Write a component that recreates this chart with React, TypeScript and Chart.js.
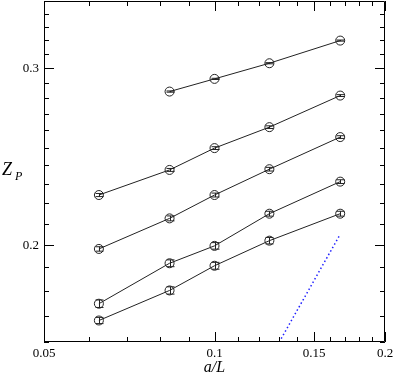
import React, { useEffect, useRef } from "react";
import { Chart, registerables } from "chart.js";

Chart.register(...registerables);

// a/L values (1/16, 1/12, 1/10, 1/8, 1/6)
const aOverL = [0.0625, 0.0833, 0.1, 0.125, 0.1667];

// Z_P series (top to bottom); null = no point
const series1 = [null, 0.2843, 0.2927, 0.3034, 0.3196];
const series2 = [0.2242, 0.2375, 0.2497, 0.262, 0.2817];
const series3 = [0.1981, 0.2125, 0.2242, 0.2379, 0.2561];
const series4 = [0.1747, 0.1917, 0.1995, 0.2148, 0.2312];
const series5 = [0.1681, 0.1801, 0.1906, 0.2019, 0.2148];

// error estimates
const err1 = [0, 0.0004, 0.0004, 0.0004, 0.0004];
const err2 = [0.0008, 0.0008, 0.0008, 0.0008, 0.0006];
const err3 = [0.001, 0.0012, 0.001, 0.001, 0.0008];
const err4 = [0.0015, 0.0015, 0.0015, 0.0012, 0.001];
const err5 = [0.0012, 0.0015, 0.0015, 0.0015, 0.0012];

// blue dotted reference line
const refX = [0.125, 0.1667];
const refY = [0.1537, 0.2049];

// axes
const xMin = 0.05;
const xMax = 0.2;
const yMin = 0.16;
const yMax = 0.35;
const xMajorTicks = [0.05, 0.1, 0.15, 0.2];
const xMajorLabels = ["0.05", "0.1", "0.15", "0.2"];
const xMinorTicks = [0.06, 0.07, 0.08, 0.09, 0.11, 0.12, 0.13, 0.14, 0.16, 0.17, 0.18, 0.19];
const yMajorTicks = [0.2, 0.3];
const yMajorLabels = ["0.2", "0.3"];
const yMinorTicks = [0.16, 0.17, 0.18, 0.19, 0.21, 0.22, 0.23, 0.24, 0.25, 0.26, 0.27, 0.28, 0.29, 0.31, 0.32, 0.33, 0.34];

const xTitle = "a/L";
const yTitleMain = "Z";
const yTitleSub = "P";

const FONT = "'Liberation Serif', 'DejaVu Serif', serif";
const INK = "#222";

const allSeries = [series1, series2, series3, series4, series5];
const allErrors = [err1, err2, err3, err4, err5];

const framePlugin = {
  id: "frameTicks",
  afterDraw(chart: any) {
    const { ctx, chartArea: a, scales } = chart;
    const xs = scales.x;
    const ys = scales.y;
    ctx.save();
    ctx.strokeStyle = "#000";
    ctx.lineWidth = 1;
    ctx.beginPath();
    ctx.rect(a.left + 0.5, a.top + 0.5, a.right - a.left - 1, a.bottom - a.top - 1);
    ctx.stroke();
    const major = 10;
    const minor = 5;
    ctx.beginPath();
    const xt = (v: number, len: number) => {
      const px = Math.round(xs.getPixelForValue(v)) + 0.5;
      ctx.moveTo(px, a.bottom);
      ctx.lineTo(px, a.bottom - len);
      ctx.moveTo(px, a.top);
      ctx.lineTo(px, a.top + len);
    };
    const yt = (v: number, len: number) => {
      const py = Math.round(ys.getPixelForValue(v)) + 0.5;
      ctx.moveTo(a.left, py);
      ctx.lineTo(a.left + len, py);
      ctx.moveTo(a.right, py);
      ctx.lineTo(a.right - len, py);
    };
    xMajorTicks.forEach((v) => xt(v, major));
    xMinorTicks.forEach((v) => xt(v, minor));
    yMajorTicks.forEach((v) => yt(v, major));
    yMinorTicks.forEach((v) => yt(v, minor));
    ctx.stroke();

    // y tick labels
    ctx.fillStyle = "#000";
    ctx.font = `13px ${FONT}`;
    ctx.textAlign = "right";
    ctx.textBaseline = "middle";
    yMajorTicks.forEach((v, i) => {
      ctx.fillText(yMajorLabels[i], a.left - 5, ys.getPixelForValue(v) + 0.5);
    });

    // y title Z_P
    ctx.textBaseline = "alphabetic";
    ctx.textAlign = "left";
    ctx.font = `italic 18px ${FONT}`;
    ctx.fillText(yTitleMain, 2, 175);
    ctx.font = `italic 12px ${FONT}`;
    ctx.fillText(yTitleSub, 15, 180);
    ctx.restore();
  },
  afterDatasetsDraw(chart: any) {
    const { ctx, scales } = chart;
    const xs = scales.x;
    const ys = scales.y;
    ctx.save();
    ctx.strokeStyle = INK;
    ctx.lineWidth = 1;
    ctx.beginPath();
    allSeries.forEach((s, si) => {
      s.forEach((v, i) => {
        if (v == null) return;
        const e = allErrors[si][i];
        const px = Math.round(xs.getPixelForValue(aOverL[i])) + 0.5;
        const yTop = ys.getPixelForValue(v + e);
        const yBot = ys.getPixelForValue(v - e);
        ctx.moveTo(px, yTop);
        ctx.lineTo(px, yBot);
        ctx.moveTo(px - 4, yTop);
        ctx.lineTo(px + 4, yTop);
        ctx.moveTo(px - 4, yBot);
        ctx.lineTo(px + 4, yBot);
      });
    });
    ctx.stroke();
    ctx.restore();
  },
};

export default function App() {
  const ref = useRef<HTMLCanvasElement>(null);
  useEffect(() => {
    if (!ref.current) return;
    const mk = (s: (number | null)[]) => ({
      type: "line" as const,
      data: aOverL.map((x, i) => ({ x, y: s[i] })),
      borderColor: INK,
      borderWidth: 1,
      backgroundColor: "transparent",
      pointRadius: 4.5,
      pointBorderColor: INK,
      pointBorderWidth: 1,
      pointBackgroundColor: "rgba(0,0,0,0)",
      pointStyle: "circle",
      spanGaps: false,
    });
    const chart = new Chart(ref.current, {
      type: "line",
      data: {
        datasets: [
          ...allSeries.map(mk),
          {
            type: "line",
            data: refX.map((x, i) => ({ x, y: refY[i] })),
            borderColor: "#2020ff",
            borderWidth: 1.5,
            borderDash: [1.5, 2.5],
            pointRadius: 0,
            fill: false,
          } as any,
        ],
      },
      options: {
        animation: false,
        responsive: false,
        devicePixelRatio: 1,
        layout: { autoPadding: false, padding: { left: 0, right: 10, top: 1, bottom: 0 } },
        plugins: { legend: { display: false }, tooltip: { enabled: false } },
        scales: {
          x: {
            type: "logarithmic",
            min: xMin,
            max: xMax,
            afterBuildTicks: (s: any) => {
              s.ticks = xMajorTicks.map((v) => ({ value: v }));
            },
            afterFit: (s: any) => {
              s.height = 33;
              s.paddingLeft = 0;
              s.paddingRight = 0;
            },
            grid: { display: false, drawTicks: false },
            border: { display: false },
            ticks: {
              autoSkip: false,
              maxRotation: 0,
              padding: 4,
              color: "#000",
              font: { family: FONT, size: 13 },
              callback: (v: any) => {
                const i = xMajorTicks.findIndex((t) => Math.abs(t - Number(v)) < 1e-9);
                return i >= 0 ? xMajorLabels[i] : "";
              },
            },
            title: {
              display: true,
              text: xTitle,
              color: "#000",
              padding: { top: 0, bottom: -2 },
              font: { family: FONT, size: 16, style: "italic" },
            },
          },
          y: {
            type: "logarithmic",
            min: yMin,
            max: yMax,
            afterBuildTicks: (s: any) => {
              s.ticks = yMajorTicks.map((v) => ({ value: v }));
            },
            afterFit: (s: any) => {
              s.width = 44;
              s.paddingTop = 0;
              s.paddingBottom = 0;
            },
            grid: { display: false, drawTicks: false },
            border: { display: false },
            ticks: { display: false, padding: 0 },
          },
        },
      },
      plugins: [framePlugin],
    } as any);
    return () => chart.destroy();
  }, []);
  return (
    <div style={{ position: "fixed", left: 0, top: 0, width: 395, height: 375, background: "#fff" }}>
      <canvas ref={ref} width={395} height={375} style={{ width: 395, height: 375, display: "block" }} />
    </div>
  );
}
